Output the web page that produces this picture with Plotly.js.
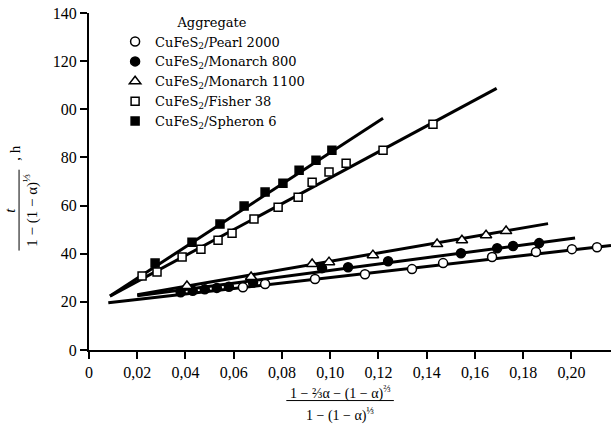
<!DOCTYPE html>
<html>
<head>
<meta charset="utf-8">
<script src="https://cdn.plot.ly/plotly-3.0.1.min.js"></script>
<style>html,body{margin:0;padding:0;background:#fff;}#chart{width:611px;height:432px;}</style>
</head>
<body>
<div id="chart"></div>
<script>
// ---- data ----
var seriesNames = ["CuFeS<sub>2</sub>/Pearl 2000", "CuFeS<sub>2</sub>/Monarch 800", "CuFeS<sub>2</sub>/Monarch 1100", "CuFeS<sub>2</sub>/Fisher 38", "CuFeS<sub>2</sub>/Spheron 6"];

var pearlX = [0.0638, 0.0730, 0.0937, 0.1144, 0.1339, 0.1468, 0.1671, 0.1853, 0.2002, 0.2106];
var pearlY = [26.1, 27.4, 29.5, 31.5, 33.6, 36.1, 38.6, 40.7, 41.9, 42.7];
var pearlFitX = [0.008, 0.2164];
var pearlFitY = [19.6, 43.4];

var m800X = [0.038, 0.043, 0.048, 0.053, 0.058, 0.068, 0.0966, 0.1074, 0.124, 0.1542, 0.1692, 0.1758, 0.1866];
var m800Y = [24.0, 24.6, 25.2, 25.8, 26.3, 28.0, 34.0, 34.4, 36.9, 40.2, 42.3, 43.2, 44.4];
var m800FitX = [0.02, 0.2015];
var m800FitY = [22.5, 46.5];

var m1100X = [0.0406, 0.0672, 0.0925, 0.0995, 0.1177, 0.1443, 0.1546, 0.1646, 0.1729];
var m1100Y = [26.6, 30.3, 35.7, 36.5, 39.4, 44.0, 45.6, 47.7, 49.4];
var m1100FitX = [0.02, 0.1903];
var m1100FitY = [23.0, 52.5];

var fisherX = [0.0220, 0.0282, 0.0386, 0.0464, 0.0535, 0.0593, 0.0684, 0.0784, 0.0867, 0.0925, 0.0995, 0.1066, 0.1219, 0.1426];
var fisherY = [30.7, 32.4, 38.6, 41.9, 45.6, 48.5, 54.4, 59.3, 63.5, 69.7, 73.9, 77.6, 83.0, 93.8];
var fisherFitX = [0.0087, 0.169];
var fisherFitY = [22.4, 108.7];

var spheronX = [0.0274, 0.0427, 0.0543, 0.0643, 0.0730, 0.0804, 0.0871, 0.0941, 0.1007];
var spheronY = [36.1, 44.8, 52.3, 59.8, 65.6, 69.3, 74.7, 78.8, 83.0];
var spheronFitX = [0.0087, 0.1219];
var spheronFitY = [22.4, 96.3];

var xTickVals = [0, 0.02, 0.04, 0.06, 0.08, 0.10, 0.12, 0.14, 0.16, 0.18, 0.20];
var xTickText = ["0", "0,02", "0,04", "0,06", "0,08", "0,10", "0,12", "0,14", "0,16", "0,18", "0,20"];
var yTickVals = [0, 20, 40, 60, 80, 100, 120, 140];
var yTickText = ["0", "20", "40", "60", "80", "00", "120", "140"];

// ---- traces ----
var serif = "Liberation Serif";
var legendFont = "DejaVu Serif";
var lineStyle = {color: "black", width: 3};
function fit(x, y) {
  return {x: x, y: y, mode: "lines", line: lineStyle, showlegend: false, hoverinfo: "skip", type: "scatter"};
}
function pts(x, y, name, symbol, fill, size) {
  return {x: x, y: y, mode: "markers", name: name, type: "scatter",
    marker: {symbol: symbol, size: size, color: fill, line: {color: "black", width: 1.5}}};
}
var data = [
  fit(pearlFitX, pearlFitY),
  fit(m800FitX, m800FitY),
  fit(m1100FitX, m1100FitY),
  fit(fisherFitX, fisherFitY),
  fit(spheronFitX, spheronFitY),
  pts(pearlX, pearlY, seriesNames[0], "circle", "white", 9),
  pts(m800X, m800Y, seriesNames[1], "circle", "black", 9),
  pts(m1100X, m1100Y, seriesNames[2], "triangle-up", "white", 10),
  pts(fisherX, fisherY, seriesNames[3], "square", "white", 8),
  pts(spheronX, spheronY, seriesNames[4], "square", "black", 8)
];

var layout = {
  width: 611, height: 432,
  margin: {l: 89, r: 0, t: 13, b: 82},
  paper_bgcolor: "white", plot_bgcolor: "white",
  font: {family: serif, size: 15, color: "black"},
  showlegend: true,
  legend: {
    x: 0.05, y: 1.01, xanchor: "left", yanchor: "top",
    bgcolor: "rgba(0,0,0,0)",
    font: {family: legendFont, size: 13, color: "black"},
    title: {text: "Aggregate", side: "top center", font: {family: legendFont, size: 13, color: "black"}},
    itemwidth: 30, tracegroupgap: 0
  },
  xaxis: {
    range: [0, 0.2164], showgrid: false, zeroline: false,
    showline: true, linecolor: "black", linewidth: 2,
    ticks: "outside", ticklen: 7, tickwidth: 2, tickcolor: "black",
    tickvals: xTickVals, ticktext: xTickText,
    tickfont: {family: serif, size: 16, color: "black"}
  },
  yaxis: {
    range: [0, 140], showgrid: false, zeroline: false,
    showline: true, linecolor: "black", linewidth: 2,
    ticks: "outside", ticklen: 7, tickwidth: 2, tickcolor: "black",
    tickvals: yTickVals, ticktext: yTickText,
    tickfont: {family: serif, size: 16, color: "black"}
  },
  annotations: [
    {xref: "paper", yref: "paper", x: 0.481, y: -0.125, xanchor: "center", yanchor: "middle", showarrow: false,
     text: "1 − ⅔α − (1 − α)<sup>⅔</sup>", font: {family: serif, size: 14, color: "black"}},
    {xref: "paper", yref: "paper", x: 0.481, y: -0.19, xanchor: "center", yanchor: "middle", showarrow: false,
     text: "1 − (1 − α)<sup>⅓</sup>", font: {family: serif, size: 14, color: "black"}},
    {xref: "paper", yref: "paper", x: -0.152, y: 0.415, xanchor: "center", yanchor: "middle", showarrow: false, textangle: -90,
     text: "<i>t</i>", font: {family: serif, size: 15, color: "black"}},
    {xref: "paper", yref: "paper", x: -0.112, y: 0.415, xanchor: "center", yanchor: "middle", showarrow: false, textangle: -90,
     text: "1 − (1 − α)<sup>⅓</sup>", font: {family: serif, size: 15, color: "black"}},
    {xref: "paper", yref: "paper", x: -0.142, y: 0.585, xanchor: "center", yanchor: "middle", showarrow: false, textangle: -90,
     text: ", h", font: {family: serif, size: 15, color: "black"}}
  ],
  shapes: [
    {type: "line", xref: "paper", yref: "paper", x0: 0.378, x1: 0.584, y0: -0.150, y1: -0.150, line: {color: "black", width: 1}},
    {type: "line", xref: "paper", yref: "paper", x0: -0.134, x1: -0.134, y0: 0.295, y1: 0.535, line: {color: "black", width: 1}}
  ]
};

Plotly.newPlot("chart", data, layout, {displayModeBar: false});
</script>
</body>
</html>
